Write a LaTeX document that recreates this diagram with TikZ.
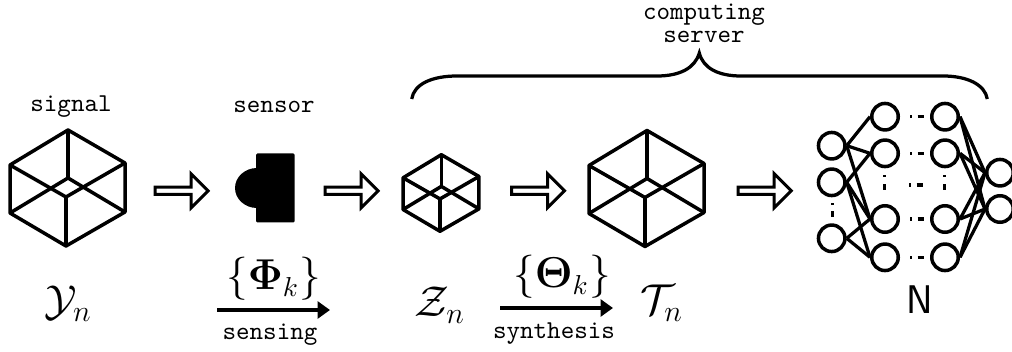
\documentclass[tikz,border=0pt]{standalone}
\usepackage{amsmath}
\usetikzlibrary{arrows.meta, shapes.arrows}
\tikzset{
  hexcube/.pic={
    \draw[line width=1.4pt, line join=round]
      (0.5,-58) -- (57.5,-25) -- (57.5,24) -- (-1.5,58) -- (-57.5,25) -- (-57.5,-23) -- cycle;
    \draw[line width=1.4pt] (0.5,-58) -- (0.5,-10);
    \draw[line width=1.4pt] (-1.5,58) -- (-1.5,9);
    \draw[line width=1.4pt] (-57.5,25) -- (0.5,-10) -- (57.5,24);
    \draw[line width=1.4pt] (-57.5,-23) -- (-1.5,9) -- (57.5,-25);
  },
  hollowarrow/.style={draw, single arrow, line width=1.2pt, minimum height=21.2pt, minimum width=13.6pt,
    single arrow head extend=2.2pt, single arrow tip angle=90, inner sep=0pt, outer sep=0pt, anchor=center},
  neuron/.style={draw, circle, line width=1.4pt, minimum size=10.6pt, inner sep=0pt},
  link/.style={line width=1.3pt},
  gapdash/.style={line width=1.3pt, dash pattern=on 0pt off 4pt on 0.6pt off 2.4pt on 2.4pt off 10pt},
  ttlabel/.style={font=\ttfamily\fontsize{10.3}{12}\selectfont},
  flow/.style={line width=1.4pt, -{Triangle[length=5pt,width=6.8pt]}},
  setlabel/.style={font=\fontsize{16}{18}\selectfont},
}
\begin{document}
\begin{tikzpicture}[x=0.4pt, y=-0.4pt]
\useasboundingbox (0,0) rectangle (1012,352);
\pic at (67.5,188) {hexcube};
\pic[scale=0.66] at (441,193) {hexcube};
\pic at (646.5,188.5) {hexcube};
\fill[rounded corners=0.5pt] (256,153.5) rectangle (294.5,222.5);
\fill (257,168) arc[start angle=270, end angle=90, x radius=22, y radius=20] -- cycle;
\foreach \name/\xpos in {arrowa/179.8, arrowb/349.8, arrowc/536.2, arrowd/762.9} {
    \node[hollowarrow] (\name) at (\xpos,190.8) {};
}
\node[ttlabel] (signal) at (71,107) {signal};
\node[ttlabel] (sensor) at (274,107) {sensor};
\node[ttlabel, align=center] (server) at (704,23) {computing\\[-2.8pt]server};
\node[font=\LARGE] (ylabel) at (68,304) {$\mathcal{Y}_n$};
\node[font=\LARGE] (zlabel) at (440,305) {$\mathcal{Z}_n$};
\node[font=\LARGE] (tlabel) at (662,303) {$\mathcal{T}_n$};
\node[setlabel] (philabel) at (273.5,279) {$\{\mathbf{\Phi}_k\}$};
\node[setlabel] (thetalabel) at (562,277) {$\{\mathbf{\Theta}_k\}$};
\node[ttlabel] (sensing) at (270,335) {sensing};
\node[ttlabel] (synthesis) at (554,334) {synthesis};
\coordinate (sensea) at (217,310);
\coordinate (senseb) at (330,310);
\coordinate (syntha) at (500,308);
\coordinate (synthb) at (613,308);
\draw[flow] (sensea) -- (senseb);
\draw[flow] (syntha) -- (synthb);
\draw[line width=1.3pt] (411.7,99) .. controls (414,84) and (432,76) .. (457,76) -- (657,76)
  .. controls (680,76) and (695,68) .. (699.3,53)
  .. controls (703,68) and (718,76) .. (741,76) -- (943,76)
  .. controls (968,76) and (985,85) .. (987.3,99);
\foreach \name/\ypos in {ina/145.7, inb/182.3, inc/238.3} {
    \node[neuron] (\name) at (831.7,\ypos) {};
}
\foreach \idx/\ypos in {a/116.7, b/153.3, c/219, d/257.3} {
    \node[neuron] (hid\idx) at (885,\ypos) {};
    \node[neuron] (deep\idx) at (945,\ypos) {};
    \draw[gapdash] (hid\idx) -- (deep\idx);
}
\node[neuron] (outa) at (1000,172.7) {};
\node[neuron] (outb) at (1000,209) {};
\foreach \from/\to in {ina/hida, ina/hidb, ina/hidc, inb/hidb, inb/hidc, inb/hidd, inc/hidc, inc/hidd} {
    \draw[link] (\from.east) -- (\to.west);
}
\foreach \from in {deepa, deepb, deepc, deepd} {
    \foreach \to in {outa, outb} {
        \draw[link] (\from.east) -- (\to.west);
    }
}
\coordinate (midl) at (899,185);
\coordinate (midr) at (931,185);
\draw[gapdash] (midl) -- (midr);
\foreach \xpos in {832, 884, 944} {
    \fill (\xpos-1.5,\ifnum\xpos=832 203\else 175\fi) rectangle ++(3,2);
    \fill (\xpos-1.5,\ifnum\xpos=832 211\else 184\fi) rectangle ++(3,6);
}
\node[font=\sffamily\fontsize{16}{16}\selectfont] (netlabel) at (920,300) {N};
\end{tikzpicture}
\end{document}
